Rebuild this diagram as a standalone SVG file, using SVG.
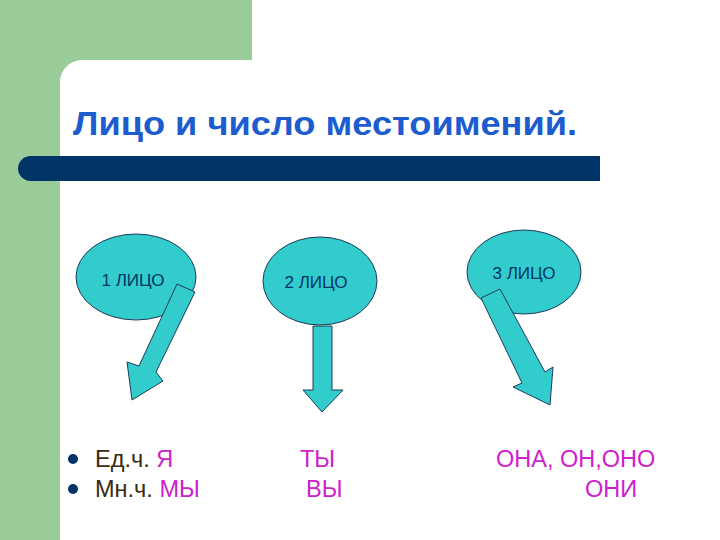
<svg xmlns="http://www.w3.org/2000/svg" width="720" height="540" viewBox="0 0 720 540">
<style>
.bg{fill:#99cc99}
.node{fill:#33cccc;stroke:#1f3a5a;stroke-width:1}
.lbl{font-family:"Liberation Sans",Arial,sans-serif;font-size:17px;fill:#003366;text-anchor:middle}
.title{font-family:"Liberation Sans",Arial,sans-serif;font-size:33px;font-weight:bold;fill:#1c5ccf}
.t{font-family:"Liberation Sans",Arial,sans-serif;font-size:23.5px}
.dk{fill:#3a2a10}
.mg{fill:#cc22cc}
</style>
<rect width="720" height="540" fill="#ffffff"/>
<g id="background">
<rect class="bg" x="0" y="0" width="60" height="540"/>
<rect class="bg" x="0" y="0" width="252" height="60"/>
<path d="M60 60 H82 A22 22 0 0 0 60 82 Z" class="bg"/>
</g>
<g id="title">
<text class="title" x="73" y="135" textLength="504" lengthAdjust="spacingAndGlyphs">Лицо и число местоимений.</text>
<path d="M30.5 156 H600 V181 H30.5 A12.5 12.5 0 0 1 30.5 156 Z" fill="#003366"/>
</g>
<g id="node1">
<ellipse class="node" cx="136" cy="277" rx="60" ry="43"/>
<text class="lbl" x="133" y="286">1 ЛИЦО</text>
</g>
<g id="node2">
<ellipse class="node" cx="320" cy="281" rx="57" ry="44"/>
<text class="lbl" x="316" y="288">2 ЛИЦО</text>
</g>
<g id="node3">
<ellipse class="node" cx="524" cy="272" rx="57" ry="42"/>
<text class="lbl" x="524" y="279">3 ЛИЦО</text>
</g>
<g id="connectors">
<polygon class="node" points="177,284 195,292 156,372 163,381 132,400 127,362 139,366"/>
<polygon class="node" points="313,326 332,326 332,390 343,390 322,412 303,390 313,390"/>
<polygon class="node" points="481,298 500,289 545,372 553,367 550,405 513,387 522,383"/>
</g>
<g id="list">
<circle cx="73" cy="459" r="5" fill="#003366"/>
<circle cx="73" cy="489" r="5" fill="#003366"/>
<text class="t" y="467"><tspan class="dk" x="95">Ед.ч. </tspan><tspan class="mg">Я</tspan></text>
<text class="t mg" x="300" y="467">ТЫ</text>
<text class="t mg" x="496" y="467">ОНА, ОН,ОНО</text>
<text class="t" y="497"><tspan class="dk" x="95">Мн.ч. </tspan><tspan class="mg">МЫ</tspan></text>
<text class="t mg" x="306" y="497">ВЫ</text>
<text class="t mg" x="585" y="497">ОНИ</text>
</g>
</svg>
